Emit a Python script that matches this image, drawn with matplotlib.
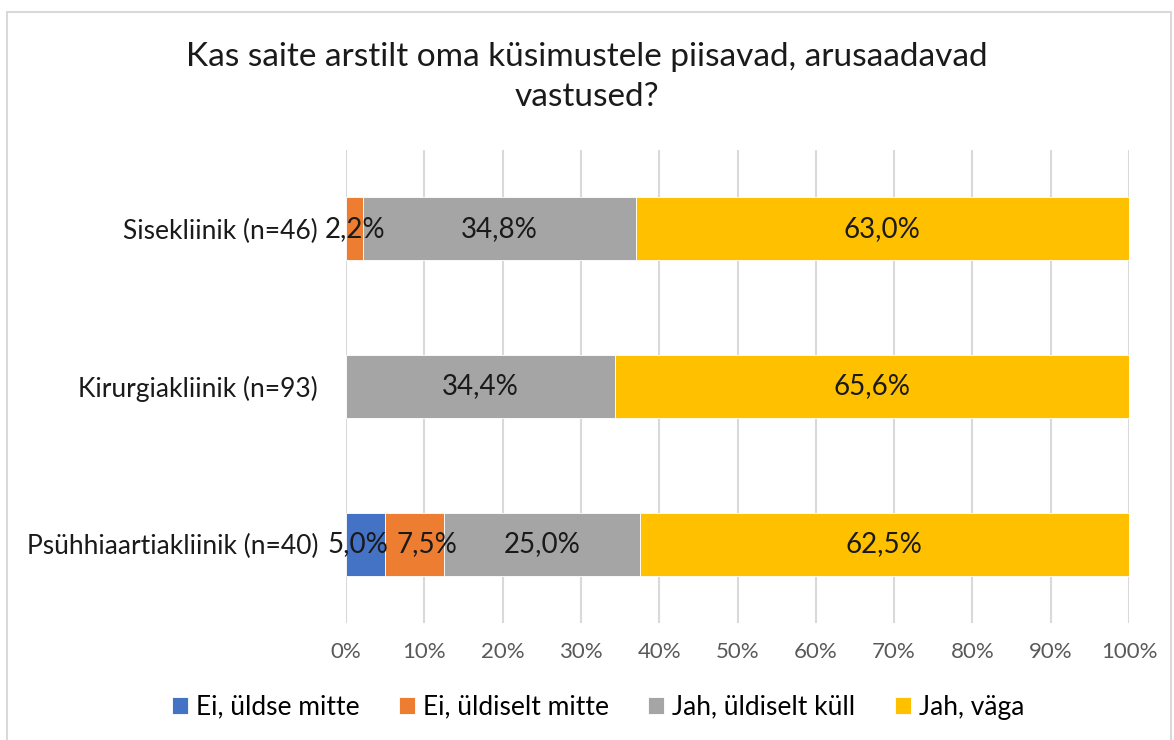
import numpy as np
import matplotlib.pyplot as plt
from matplotlib.patches import Rectangle

# Andmed
kategooriad = ['Sisekliinik (n=46)', 'Kirurgiakliinik (n=93)', 'Psühhiaartiakliinik (n=40)']
seeriad = ['Ei, üldse mitte', 'Ei, üldiselt mitte', 'Jah, üldiselt küll', 'Jah, väga']
ei_yldse = [0.0, 0.0, 5.0]
ei_yldiselt = [2.2, 0.0, 7.5]
jah_yldiselt = [34.8, 34.4, 25.0]
jah_vaga = [63.0, 65.6, 62.5]
varvid = ['#4472C4', '#ED7D31', '#A5A5A5', '#FFC000']
xticks = [0, 10, 20, 30, 40, 50, 60, 70, 80, 90, 100]

# siltide nihked (pikslites) kitsaste lõikude jaoks, nagu Excelis
nihe = {(0, 2): -8, (1, 2): 12}

plt.rcParams['font.family'] = ['Lato', 'DejaVu Sans']

fig = plt.figure(figsize=(11.74, 7.4), dpi=100)
ax = fig.add_axes([346 / 1174, 117 / 740, 783 / 1174, 473 / 740])

# raam ümber joonise
fig.patches.append(Rectangle((7 / 1174, -0.1), 1164 / 1174, 1.0 - 12 / 740 + 0.1,
                             transform=fig.transFigure, fill=False,
                             edgecolor='#D9D9D9', linewidth=1.5))

y = np.arange(len(kategooriad))
vasak = np.zeros(len(kategooriad))
for si, (nimi, vals, c) in enumerate(zip(seeriad, [ei_yldse, ei_yldiselt, jah_yldiselt, jah_vaga], varvid)):
    vals = np.array(vals)
    ax.barh(y, vals, left=vasak, height=0.4, color=c, edgecolor='white',
            linewidth=0.6, label=nimi, zorder=3)
    for yi, v, l in zip(y, vals, vasak):
        if v > 0:
            dx = nihe.get((si, yi), 0) * 0.72
            ax.annotate(f'{v:.1f}%'.replace('.', ','), (l + v / 2, yi), xytext=(dx, 0),
                        textcoords='offset points', ha='center', va='center',
                        fontsize=20, color='#1A1A1A', zorder=4)
    vasak += vals

ax.set_xlim(0, 100)
ax.set_ylim(2.5, -0.5)
ax.set_xticks(xticks)
ax.set_xticklabels([f'{t}%' for t in xticks], fontsize=16, color='#595959')
ax.set_yticks(y)
ax.set_yticklabels(kategooriad, fontsize=19, color='#1A1A1A')
ax.tick_params(length=0)
ax.tick_params(axis='y', pad=20)
ax.tick_params(axis='x', pad=14)
ax.grid(axis='x', color='#D9D9D9', linewidth=1.5, zorder=0)
for s in ax.spines.values():
    s.set_visible(False)

fig.text(0.5, 1 - 77 / 740, 'Kas saite arstilt oma küsimustele piisavad, arusaadavad\nvastused?',
         ha='center', va='center', fontsize=24, color='#1A1A1A', linespacing=1.38)

fig.legend(loc='center', bbox_to_anchor=(598 / 1174, 1 - 707 / 740), ncol=4, frameon=False,
           fontsize=19, handlelength=0.6, handleheight=0.6, handletextpad=0.3,
           columnspacing=1.5)

plt.savefig('out.png', dpi=100)
